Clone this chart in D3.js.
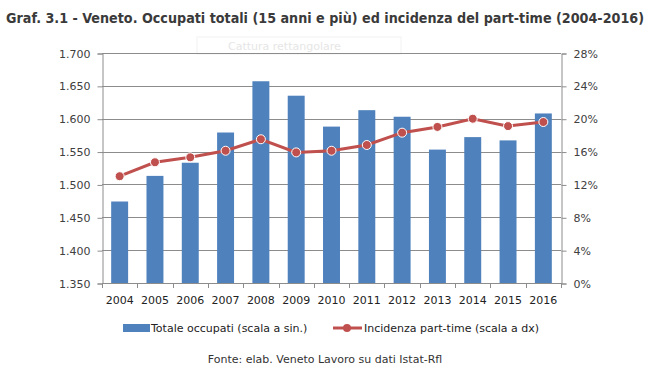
<!DOCTYPE html>
<html>
<head>
<meta charset="utf-8">
<script src="https://cdn.jsdelivr.net/npm/d3@7"></script>
<style>
  body { margin: 0; background: #fff; }
  text { font-family: "DejaVu Sans", sans-serif; }
</style>
</head>
<body>
<script>
var years = ['2004','2005','2006','2007','2008','2009','2010','2011','2012','2013','2014','2015','2016'];
var occupati = [1.474, 1.513, 1.533, 1.579, 1.657, 1.635, 1.588, 1.613, 1.603, 1.553, 1.572, 1.567, 1.608];
var partTime = [13.0, 14.7, 15.3, 16.1, 17.5, 15.9, 16.1, 16.8, 18.3, 19.0, 20.0, 19.1, 19.6];
var leftTicks = [1.35, 1.40, 1.45, 1.50, 1.55, 1.60, 1.65, 1.70];
var rightTicks = [0, 4, 8, 12, 16, 20, 24, 28];

var w = 670, h = 379;
var pLeft = 102, pRight = 561, pTop = 53, pBottom = 283;
var blue = '#4f81bd', red = '#c0504d', grey = '#8c8c8c', txt = '#404040';

var svg = d3.select('body').append('svg')
  .attr('width', w)
  .attr('height', h);

var x = d3.scaleBand().domain(years).range([pLeft, pRight]).paddingInner(0.52).paddingOuter(0.26);
var xMid = function (d) { return x(d) + x.bandwidth() / 2; };
var yL = d3.scaleLinear().domain([1.35, 1.70]).range([pBottom, pTop]);
var yR = d3.scaleLinear().domain([0, 28]).range([pBottom, pTop]);

// title (condensed to fit the reference width)
svg.append('text')
  .attr('x', 6).attr('y', 23)
  .attr('textLength', 638).attr('lengthAdjust', 'spacingAndGlyphs')
  .style('font-size', '14.5px').style('font-weight', 'bold')
  .style('font-family', '"DejaVu Sans Condensed", "DejaVu Sans", sans-serif')
  .attr('fill', '#3a3a3a')
  .text('Graf. 3.1 - Veneto. Occupati totali (15 anni e più) ed incidenza del part-time (2004-2016)');

// faint screen-capture leftover
svg.append('rect').attr('x', 197).attr('y', 37).attr('width', 204).attr('height', 17)
  .attr('fill', 'none').attr('stroke', '#f2f2f2');
svg.append('text').attr('x', 228).attr('y', 50).style('font-size', '11px')
  .attr('fill', '#e6e6e6').text('Cattura rettangolare');

// gridlines
svg.append('g').selectAll('line')
  .data(leftTicks.slice(1))
  .enter().append('line')
  .attr('x1', pLeft).attr('x2', pRight)
  .attr('y1', function (d) { return Math.round(yL(d)) + 0.5; })
  .attr('y2', function (d) { return Math.round(yL(d)) + 0.5; })
  .attr('stroke', grey).attr('stroke-width', 1);

// left axis
var gL = svg.append('g').attr('transform', 'translate(' + (pLeft + 0.5) + ',0.5)')
  .call(d3.axisLeft(yL).tickValues(leftTicks).tickSize(5).tickPadding(7)
    .tickFormat(d3.format('.3f')));
// right axis
var gR = svg.append('g').attr('transform', 'translate(' + (pRight + 0.5) + ',0.5)')
  .call(d3.axisRight(yR).tickValues(rightTicks).tickSize(5).tickPadding(7)
    .tickFormat(function (d) { return d + '%'; }));
[gL, gR].forEach(function (g) {
  g.select('.domain').attr('stroke', grey);
  g.selectAll('.tick line').attr('stroke', grey);
  g.selectAll('.tick text').attr('fill', txt).style('font-size', '11px')
    .style('font-family', '"DejaVu Sans", sans-serif');
});

// bars
svg.append('g').selectAll('rect')
  .data(occupati)
  .enter().append('rect')
  .attr('x', function (d, i) { return x(years[i]); })
  .attr('width', x.bandwidth())
  .attr('y', function (d) { return yL(d); })
  .attr('height', function (d) { return pBottom - yL(d); })
  .attr('fill', blue);

// x axis line + ticks between categories
svg.append('line').attr('x1', pLeft).attr('x2', pRight)
  .attr('y1', pBottom + 0.5).attr('y2', pBottom + 0.5).attr('stroke', grey);
var step = x.step();
svg.append('g').selectAll('line')
  .data(d3.range(years.length + 1))
  .enter().append('line')
  .attr('x1', function (i) { return Math.round(pLeft + i * step) + 0.5; })
  .attr('x2', function (i) { return Math.round(pLeft + i * step) + 0.5; })
  .attr('y1', pBottom).attr('y2', pBottom + 5)
  .attr('stroke', grey);
svg.append('g').selectAll('text')
  .data(years)
  .enter().append('text')
  .attr('x', xMid).attr('y', 304)
  .attr('text-anchor', 'middle')
  .style('font-size', '11px').attr('fill', '#222')
  .text(function (d) { return d; });

// line
var line = d3.line()
  .x(function (d, i) { return xMid(years[i]); })
  .y(function (d) { return yR(d); });
svg.append('path').datum(partTime)
  .attr('d', line)
  .attr('fill', 'none').attr('stroke', red).attr('stroke-width', 3);
svg.append('g').selectAll('circle')
  .data(partTime)
  .enter().append('circle')
  .attr('cx', function (d, i) { return xMid(years[i]); })
  .attr('cy', function (d) { return yR(d); })
  .attr('r', 4.5)
  .attr('fill', red).attr('stroke', '#fff').attr('stroke-width', 1);

// legend
svg.append('rect').attr('x', 123).attr('y', 324).attr('width', 27).attr('height', 8).attr('fill', blue);
svg.append('text').attr('x', 151).attr('y', 332).style('font-size', '11px').attr('fill', '#222')
  .text('Totale occupati (scala a sin.)');
svg.append('line').attr('x1', 333).attr('x2', 362).attr('y1', 328).attr('y2', 328)
  .attr('stroke', red).attr('stroke-width', 3);
svg.append('circle').attr('cx', 347).attr('cy', 328).attr('r', 4).attr('fill', red);
svg.append('text').attr('x', 364).attr('y', 332).style('font-size', '11px').attr('fill', '#222')
  .text('Incidenza part-time  (scala a dx)');

// source
svg.append('text').attr('x', 325).attr('y', 363).attr('text-anchor', 'middle')
  .style('font-size', '11px').attr('fill', '#333')
  .text('Fonte: elab. Veneto Lavoro su dati Istat-Rfl');
</script>
</body>
</html>
